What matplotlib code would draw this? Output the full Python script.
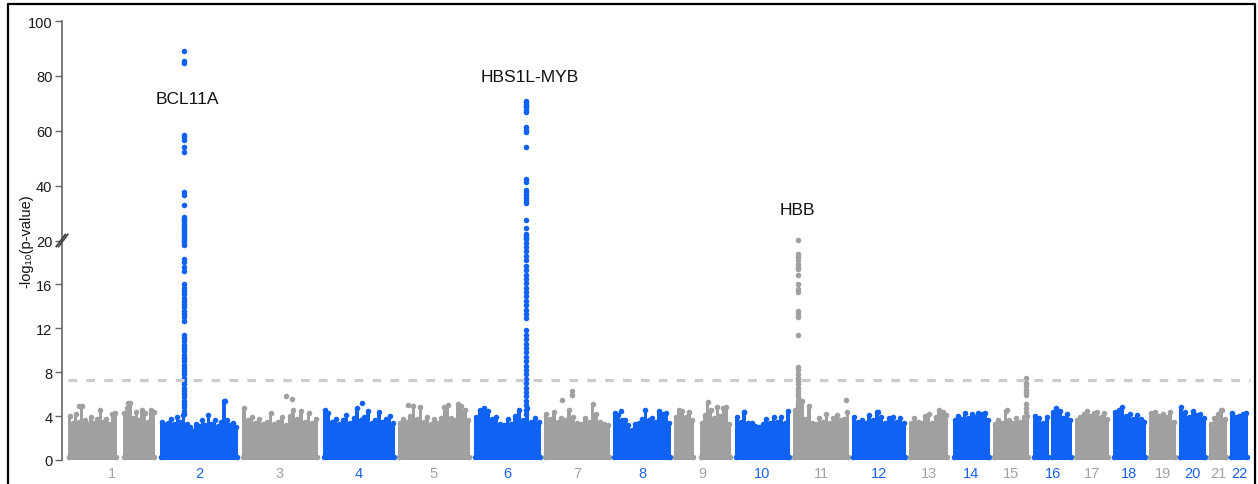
import numpy as np
import matplotlib.pyplot as plt
from matplotlib.lines import Line2D

plt.rcParams['font.family'] = ['Liberation Sans', 'DejaVu Sans']

BLUE = '#1062f5'
GRAY = '#a0a0a0'
BLUE_TXT = '#1a62e8'
GRAY_TXT = '#a3a3a3'

# position of each chromosome block on the genome axis (start, end); arms split where a gap shows
segments = [
    ('1', 68, 117), ('1', 123, 155), ('2', 160, 238), ('3', 242, 318),
    ('4', 323, 395), ('5', 398, 470), ('6', 474, 541), ('7', 544, 610),
    ('8', 613, 671), ('9', 674, 694), ('9', 700, 731), ('10', 735, 790),
    ('11', 793, 849), ('12', 852, 906), ('13', 909, 948), ('14', 953, 990),
    ('15', 993, 1029), ('16', 1033, 1049), ('16', 1051, 1072), ('17', 1075, 1109),
    ('18', 1113, 1146), ('19', 1149, 1176), ('20', 1179, 1206), ('21', 1209, 1227),
    ('22', 1230, 1248),
]

# upper edge of the dense background, left to right within each block (-log10 p)
seg_tops = [
    [4.0, 3.4, 4.2, 3.5, 4.9, 3.6, 3.3, 3.9, 3.4, 3.7, 4.6, 3.5, 3.7, 3.3, 4.2, 4.3],
    [4.3, 4.7, 5.2, 3.8, 4.4, 3.6, 4.6, 4.3, 3.5, 4.6, 4.4],
    [3.5, 3.2, 3.4, 3.7, 3.3, 3.9, 3.5, 4.1, 3.3, 3.0, 2.6, 3.3, 3.1, 3.6, 3.2, 4.1,
     3.3, 3.6, 3.1, 3.5, 5.4, 3.6, 3.2, 3.4, 3.0],
    [4.7, 3.6, 3.9, 3.4, 3.7, 3.3, 3.5, 4.3, 3.3, 3.5, 3.9, 3.2, 4.0, 4.6, 3.7, 4.5,
     3.5, 4.3, 3.4, 3.7],
    [4.6, 4.3, 3.5, 3.7, 3.3, 3.6, 4.1, 3.4, 3.8, 4.7, 3.6, 3.9, 4.5, 3.4, 3.6, 4.4,
     3.5, 3.7, 4.0, 3.4],
    [3.4, 3.7, 3.5, 4.0, 4.9, 3.7, 4.8, 3.5, 3.9, 3.3, 3.7, 3.4, 3.8, 4.8, 5.0, 3.8,
     3.6, 5.1, 4.9, 4.6, 3.6],
    [3.9, 4.6, 4.7, 4.5, 3.7, 3.9, 3.3, 3.2, 3.7, 3.3, 4.0, 4.6, 3.6, 4.7, 3.5, 3.8, 3.5],
    [4.2, 3.7, 4.4, 3.5, 3.8, 3.6, 4.6, 3.9, 3.4, 3.3, 3.8, 3.5, 5.1, 4.2, 3.5, 3.3, 3.2],
    [4.3, 4.1, 3.6, 3.6, 3.2, 2.7, 3.3, 3.4, 3.7, 4.6, 3.6, 3.8, 3.5, 4.5, 4.2, 4.3, 3.4],
    [3.9, 4.6, 4.5, 3.9, 4.4, 3.6],
    [3.4, 4.1, 5.3, 4.6, 3.8, 4.8, 4.0, 4.7, 4.8, 3.3],
    [3.9, 3.5, 4.4, 3.4, 3.4, 3.1, 3.0, 3.3, 3.7, 3.4, 3.9, 3.5, 3.9, 3.4, 4.5],
    [4.6, 4.3, 5.4, 3.7, 4.9, 3.4, 3.3, 3.8, 3.5, 4.2, 3.4, 3.8, 4.1, 3.6, 3.7, 4.4],
    [3.9, 3.5, 3.6, 3.4, 4.1, 3.6, 4.4, 3.9, 3.4, 3.8, 3.9, 3.5, 3.8, 3.4],
    [3.4, 3.8, 3.5, 3.4, 4.0, 4.2, 3.4, 3.9, 4.6, 4.4, 4.1],
    [3.6, 4.0, 3.7, 4.3, 3.8, 4.2, 3.9, 4.3, 4.2, 4.3, 3.6],
    [3.3, 3.6, 3.4, 4.5, 3.6, 3.4, 3.8, 3.5, 3.9, 4.0],
    [4.0, 3.8, 3.4, 3.9],
    [4.4, 4.7, 4.5, 3.8, 4.2, 3.6],
    [3.6, 3.9, 4.2, 4.5, 4.0, 4.3, 4.4, 3.9, 4.3, 3.7],
    [4.4, 4.6, 4.8, 4.0, 4.2, 3.7, 4.1, 3.7, 3.5],
    [4.3, 4.4, 4.0, 4.2, 3.9, 4.4, 3.5],
    [4.8, 4.4, 3.9, 4.5, 4.1, 4.2, 3.8],
    [3.3, 3.8, 4.2, 4.6, 3.7],
    [4.3, 3.9, 4.0, 4.2, 4.3],
]

# isolated points above the background
outlier_chr = ['1', '1', '2', '3', '3', '4', '5', '7', '7', '7', '8', '10', '11', '11', '12', '15', '21']
outlier_x = [79, 128, 225, 286, 292, 362, 408, 562, 572, 572, 621, 744, 801, 846, 878, 1007, 1221]
outlier_y = [4.9, 5.2, 5.4, 5.8, 5.55, 5.2, 5.0, 5.5, 6.3, 5.9, 4.5, 4.4, 5.4, 5.45, 4.4, 4.6, 4.6]

# association peaks
bcl11a_x = 184
bcl11a_vals = [89.2, 85.5, 84.7, 58.5, 57.7, 56.5, 54.0, 52.3, 37.5, 36.7, 32.8, 28.7,
               28.0, 27.3, 26.6, 26.0, 25.3, 24.6, 24.0, 23.3, 22.7, 22.0, 21.4, 20.8,
               20.3, 19.9, 19.6, 18.3, 18.0, 17.6, 17.2, 16.0, 15.7, 15.4, 15.1, 14.8,
               14.5, 14.2, 13.9, 13.6, 13.3, 13.0, 12.7, 11.4, 11.1, 10.8, 10.5, 10.2,
               9.9, 9.6, 9.3, 9.0, 8.7, 8.4, 8.1, 7.8, 7.5, 7.2, 6.9, 6.6, 6.3, 6.0,
               5.7, 5.4, 5.1, 4.8, 4.5, 4.2]
hbs1l_x = 526
hbs1l_vals = [71.0, 70.4, 69.8, 69.2, 68.6, 67.6, 66.8, 61.3, 60.4, 59.5, 54.1, 42.5,
              41.5, 38.3, 37.5, 36.5, 35.5, 34.5, 33.5, 27.4, 24.4, 22.5, 21.7, 21.0,
              20.4, 19.8, 19.4, 19.0, 18.6, 18.2, 17.7, 17.3, 16.9, 16.5, 16.1, 15.7,
              15.3, 14.9, 14.5, 14.1, 13.7, 13.3, 12.9, 11.8, 11.4, 11.0, 10.6, 10.2,
              9.8, 9.4, 9.0, 8.6, 8.2, 7.8, 7.4, 7.0, 6.6, 6.2, 5.8, 5.4, 5.0, 4.6, 4.2]
hbb_x = 797.7
hbb_vals = [20.1, 18.8, 18.5, 18.2, 17.9, 17.6, 17.4, 16.9, 16.0, 15.6, 15.3, 13.6,
            13.3, 13.0, 11.4, 8.5, 8.2, 7.8, 7.5, 7.2, 6.9, 6.6, 6.3, 6.0, 5.7, 5.4,
            5.1, 4.8, 4.5]
chr15_x = 1025.7
chr15_vals = [7.5, 7.0, 6.7, 6.4, 6.1, 5.9, 5.1, 4.7, 4.4]

gene_labels = ['BCL11A', 'HBS1L-MYB', 'HBB']
gene_x = [187, 530, 797]
gene_y = [71.6, 79.6, 31.3]

threshold = 7.3
yticks = [0, 4, 8, 12, 16, 20, 40, 60, 80, 100]


def color_of(c):
    return BLUE if int(c) % 2 == 0 else GRAY


def fwd(y):
    y = np.asarray(y, dtype=float)
    return np.where(y <= 20, y / 40.0, 0.5 + (y - 20) / 160.0)


def inv(t):
    t = np.asarray(t, dtype=float)
    return np.where(t <= 0.5, t * 40.0, 20 + (t - 0.5) * 160.0)


W, H = 1258, 485
fig = plt.figure(figsize=(W / 100, H / 100), dpi=100)
ax = fig.add_axes([62 / W, (H - 461) / H, (1252 - 62) / W, (461 - 22) / H])
ax.set_yscale('function', functions=(fwd, inv))

ms = 16
for (c, s, e), tops in zip(segments, seg_tops):
    col = color_of(c)
    n = len(tops)
    w = (e - s) / n
    xs = s + w * (np.arange(n) + 0.5)
    ax.bar(xs, tops, width=w, color=col, linewidth=0, zorder=2)
    ax.scatter(xs, tops, s=ms, color=col, linewidths=0, zorder=2)
    ax.scatter([s + 1, e - 1], [0.3, 0.3], s=ms, color=col, linewidths=0, zorder=2)

for c, x, y in zip(outlier_chr, outlier_x, outlier_y):
    ax.scatter(x, y, s=ms, color=color_of(c), linewidths=0, zorder=3)

for x, vals, c in [(bcl11a_x, bcl11a_vals, '2'), (hbs1l_x, hbs1l_vals, '6'),
                   (hbb_x, hbb_vals, '11'), (chr15_x, chr15_vals, '15')]:
    ax.scatter(np.full(len(vals), x), vals, s=ms, color=color_of(c), linewidths=0, zorder=3)

ax.plot([68, 1250], [threshold, threshold], color='#cccccc', lw=2.3,
        dashes=(2.7, 2.9), zorder=4)

for lab, x, y in zip(gene_labels, gene_x, gene_y):
    ax.text(x, y, lab, ha='center', va='center', fontsize=12.5, color='#111111')

ax.set_xlim(62, 1252)
ax.set_ylim(0, 100)
ax.set_yticks(yticks)
ax.set_yticklabels([str(t) for t in yticks])
ax.yaxis.set_minor_locator(plt.NullLocator())
ax.tick_params(axis='y', length=5, width=1, color='#666666', labelsize=10.5,
               labelcolor='#1a1a1a', pad=2)

# chromosome labels at block centres
centres = []
for c in [str(i) for i in range(1, 23)]:
    ss = [s for cc, s, e in segments if cc == c]
    ee = [e for cc, s, e in segments if cc == c]
    centres.append((min(ss) + max(ee)) / 2)
ax.set_xticks(centres)
ax.set_xticklabels([str(i) for i in range(1, 23)])
ax.tick_params(axis='x', length=0, labelsize=10.5, pad=4)
for i, t in enumerate(ax.get_xticklabels()):
    t.set_color(BLUE_TXT if (i + 1) % 2 == 0 else GRAY_TXT)

for sp in ['top', 'right', 'bottom']:
    ax.spines[sp].set_visible(False)
ax.spines['left'].set_color('#666666')
ax.spines['left'].set_linewidth(1.2)

ax.set_ylabel('-log\u2081\u2080(p-value)', fontsize=10.5, color='#111111')
ax.yaxis.set_label_coords(-(62 - 33) / 1190, 0.5)

# axis break mark at 20
dx, dy = 4.5 / 1190, 6 / 439
for off in [-1.2 / 1190, 1.2 / 1190]:
    ax.add_line(Line2D([-dx + off, dx + off], [0.5 - dy, 0.5 + dy], transform=ax.transAxes,
                       color='#444444', lw=1.3, clip_on=False, zorder=5))

# frame around the figure
fig.add_artist(Line2D([8 / W, 8 / W, 1255 / W, 1255 / W], [0, 1 - 5 / H, 1 - 5 / H, 0],
                      transform=fig.transFigure, color='black', lw=1.6))

fig.savefig('out.png', dpi=100)
